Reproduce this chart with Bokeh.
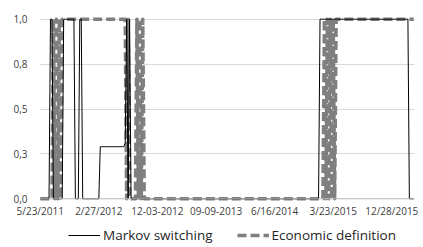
from bokeh.plotting import figure
from bokeh.models import Range1d, FixedTicker, Legend, LegendItem, Span
from bokeh.layouts import column
from bokeh.embed import file_html
from bokeh.resources import INLINE

# Weekly observations starting 5/23/2011 (index = week number)
x_tick_weeks = [0, 40, 80, 120, 160, 200, 240]
x_tick_labels = ["5/23/2011", "2/27/2012", "12-03-2012", "09-09-2013",
                 "6/16/2014", "3/23/2015", "12/28/2015"]
y_ticks = [0.0, 0.25, 0.5, 0.75, 1.0]
y_tick_labels = ["0,0", "0,3", "0,5", "0,8", "1,0"]
series_names = ["Markov switching", "Economic definition"]

# Read values, as (value, number of consecutive weeks)
markov_runs = [
    (0.0, 7), (1.0, 2), (0.0, 7), (1.0, 8), (0.0, 3), (1.0, 2), (0.0, 12),
    (0.29, 17), (0.31, 1),
    (1.0, 1), (0.0, 1), (1.0, 1), (0.0, 1),
    (0.0, 128), (1.0, 61), (0.0, 4),
]
economic_runs = [
    (0.0, 9), (1.0, 1), (0.0, 1), (1.0, 1), (0.0, 1), (1.0, 1), (0.0, 1), (1.0, 44),
    (0.0, 1), (1.0, 1), (0.0, 1), (0.0, 4),
    (1.0, 1), (0.0, 1), (1.0, 1), (0.0, 1), (1.0, 1), (0.0, 1),
    (0.0, 122),
    (1.0, 1), (0.0, 1), (1.0, 1), (0.0, 1), (1.0, 1), (0.0, 1), (1.0, 1), (0.0, 1),
    (1.0, 54),
]


def expand(runs):
    out = []
    for v, n in runs:
        out.extend([v] * n)
    return out


markov = expand(markov_runs)
economic = expand(economic_runs)
weeks_m = list(range(len(markov)))
weeks_e = list(range(len(economic)))

FONT = "Open Sans"
MARKOV_STYLE = dict(line_color="black", line_width=1, line_join="miter")
ECON_STYLE = dict(line_color="#7f7f7f", line_width=3.5, line_dash="9 4",
                  line_join="round")

p = figure(width=423, height=222, output_backend="svg", toolbar_location=None,
           x_range=Range1d(-0.5, 255.5), y_range=Range1d(-0.015, 1.015),
           min_border_left=39, min_border_right=9, min_border_top=16,
           min_border_bottom=21)
p.outline_line_color = None
p.background_fill_color = "white"

p.xgrid.visible = False
p.ygrid.ticker = FixedTicker(ticks=y_ticks)
p.ygrid.grid_line_color = "#d9d9d9"
p.ygrid.grid_line_width = 1

p.yaxis.ticker = FixedTicker(ticks=y_ticks)
p.yaxis.major_label_overrides = {t: l for t, l in zip(y_ticks, y_tick_labels)}
p.xaxis.ticker = FixedTicker(ticks=x_tick_weeks)
p.xaxis.major_label_overrides = {t: l for t, l in zip(x_tick_weeks, x_tick_labels)}
for ax in (p.xaxis, p.yaxis):
    ax.axis_line_color = None
    ax.major_tick_line_color = None
    ax.minor_tick_line_color = None
    ax.major_tick_out = 0
    ax.major_label_text_font = FONT
    ax.major_label_text_font_size = "10px"
    ax.major_label_text_color = "#404040"
p.yaxis.major_label_standoff = 12
p.xaxis.major_label_standoff = 2

p.add_layout(Span(location=0, dimension="width", line_color="#bfbfbf", line_width=1))

p.line(weeks_e, economic, **ECON_STYLE)
p.line(weeks_m, markov, **MARKOV_STYLE)

# legend strip below the chart (its frame is aligned with the chart's frame);
# the series are drawn here outside the visible range, only to feed the legend
lg = figure(width=423, height=25, output_backend="svg", toolbar_location=None,
            x_range=Range1d(-0.5, 255.5), y_range=Range1d(10, 11),
            x_axis_location=None, y_axis_location=None,
            min_border_left=39, min_border_right=9, min_border_top=0,
            min_border_bottom=0)
lg.grid.visible = False
lg.outline_line_color = None
lr_m = lg.line(weeks_m, markov, **MARKOV_STYLE)
lr_e = lg.line(weeks_e, economic, **ECON_STYLE)

legend = Legend(items=[LegendItem(label=series_names[0], renderers=[lr_m]),
                       LegendItem(label=series_names[1], renderers=[lr_e])],
                orientation="horizontal", location=(29, 3),
                glyph_width=32, glyph_height=14, label_height=14,
                label_standoff=3, spacing=24, padding=0, margin=0,
                border_line_alpha=0, background_fill_alpha=0,
                label_text_font=FONT, label_text_font_size="13.5px",
                label_text_color="#262626")
lg.add_layout(legend, "center")

open("out.html", "w").write(file_html(column(p, lg, spacing=0), INLINE))
